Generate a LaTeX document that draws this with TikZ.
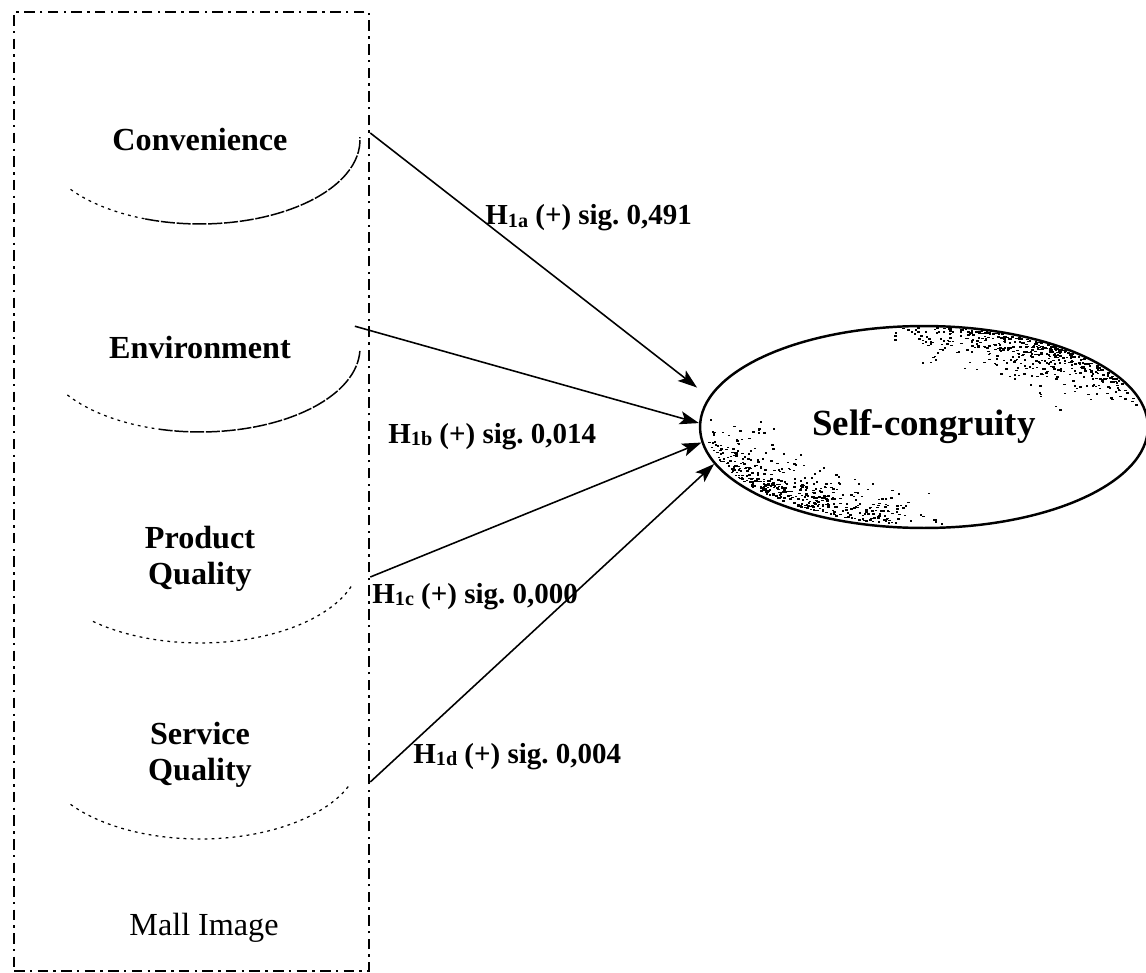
\documentclass[tikz,border=0pt]{standalone}
\usepackage{fontspec}
\setmainfont{Liberation Serif}
\usetikzlibrary{positioning, arrows.meta, calc, shapes.geometric}
\newcommand{\hsub}[1]{\raisebox{-1.5pt}{\fontsize{11.5}{12}\selectfont#1}}
\frenchspacing

\begin{document}
\begin{tikzpicture}[x=0.02cm, y=0.02cm,
  facet/.style={ellipse, minimum width=6.4cm, minimum height=3.36cm, inner sep=0pt, align=center, font=\bfseries\fontsize{18.3}{20.5}\selectfont},
  rim/.style={line width=0.85pt, dash pattern=on 8pt off 1pt},
  rimfaint/.style={line width=0.7pt, dash pattern=on 1.6pt off 2.4pt},
  mallframe/.style={draw, line width=1.5pt, dash pattern=on 6pt off 3pt on 1.4pt off 3pt, minimum width=7.1cm, minimum height=19.18cm, inner sep=0pt},
  latent/.style={draw, ellipse, line width=1.4pt, minimum width=8.96cm, minimum height=4.04cm, inner sep=0pt, font=\bfseries\fontsize{21}{24}\selectfont},
  hyp/.style={anchor=base west, inner sep=0pt, font=\bfseries\fontsize{16.5}{18}\selectfont},
  arr/.style={-{Stealth[length=11pt, width=7.5pt, inset=2.5pt]}, line width=0.9pt}]
\useasboundingbox (0,0) rectangle (1146,-973);
\node[mallframe] (mallbox) at (191.5,-491.5) {};
\node[facet] (conv) at (200,-140) {Convenience};
\node[facet] (env) at (200,-348) {Environment};
\node[facet] (prod) at (200,-559) {Product\\Quality};
\node[facet] (serv) at (200,-755) {Service\\Quality};
\node[anchor=base, font=\fontsize{18.3}{20.5}\selectfont] (mallname) at (204,-935) {Mall Image};
\node[latent] (sc) at (924,-427) {Self-congruity};
\draw[rimfaint] ($(conv.center)+(216:3.2cm and 1.68cm)$) arc[start angle=216, end angle=250, x radius=3.2cm, y radius=1.68cm];
\draw[rim] ($(conv.center)+(250:3.2cm and 1.68cm)$) arc[start angle=250, end angle=362, x radius=3.2cm, y radius=1.68cm];
\draw[rimfaint] ($(env.center)+(214:3.2cm and 1.68cm)$) arc[start angle=214, end angle=255, x radius=3.2cm, y radius=1.68cm];
\draw[rim] ($(env.center)+(255:3.2cm and 1.68cm)$) arc[start angle=255, end angle=358, x radius=3.2cm, y radius=1.68cm];
\draw[rimfaint] ($(prod.center)+(228:3.2cm and 1.68cm)$) arc[start angle=228, end angle=343, x radius=3.2cm, y radius=1.68cm];
\draw[rimfaint] ($(serv.center)+(216:3.2cm and 1.68cm)$) arc[start angle=216, end angle=340, x radius=3.2cm, y radius=1.68cm];
\pgfmathsetseed{11}
\foreach \k in {1,...,480}{
  \pgfmathsetmacro\ang{12+44*(rnd+rnd)}
  \pgfmathsetmacro\rr{0.985-0.4*rnd*rnd}
  \pgfmathsetmacro\rx{4.44*\rr}
  \pgfmathsetmacro\ry{2.0*\rr}
  \fill ($(sc.center)+(\ang:\rx cm and \ry cm)$) rectangle ++(2.4,1.6);
}
\foreach \k in {1,...,480}{
  \pgfmathsetmacro\ang{174+52*(rnd+rnd)}
  \pgfmathsetmacro\rr{0.985-0.4*rnd*rnd}
  \pgfmathsetmacro\rx{4.44*\rr}
  \pgfmathsetmacro\ry{2.0*\rr}
  \fill ($(sc.center)+(\ang:\rx cm and \ry cm)$) rectangle ++(2.4,1.6);
}
\coordinate (p1) at ($(conv.east -| mallbox.east)+(0,7)$);
\coordinate (p3) at ($(prod.east -| mallbox.east)+(0,-18)$);
\coordinate (p4) at ($(serv.east -| mallbox.east)+(0,-27)$);
\draw[arr, shorten >=0.3cm] (p1) -- (sc.172);
\draw[arr] (env.8) -- (sc.179);
\draw[arr] (p3) -- (sc.184);
\draw[arr] (p4) -- (sc.190);
\node[hyp] (h1a) at (485,-225) {H\hsub{1a} (+) sig. 0,491};
\node[hyp] (h1b) at (388,-443) {H\hsub{1b} (+) sig. 0,014};
\node[hyp] (h1c) at (372,-603) {H\hsub{1c} (+) sig. 0,000};
\node[hyp] (h1d) at (413,-763) {H\hsub{1d} (+) sig. 0,004};
\end{tikzpicture}
\end{document}
